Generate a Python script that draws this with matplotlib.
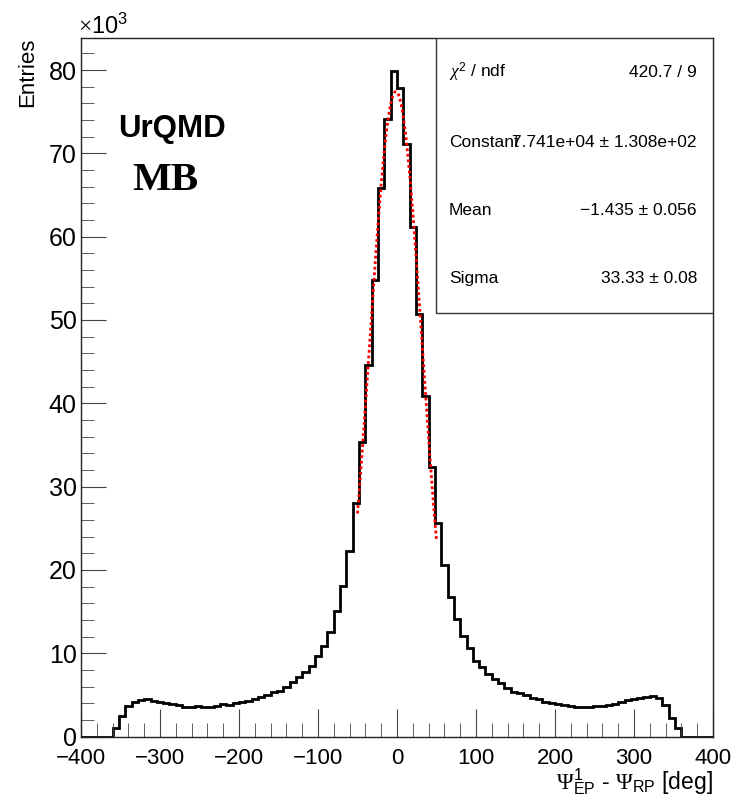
import matplotlib
matplotlib.use("Agg")
import matplotlib.pyplot as plt
import numpy as np
from matplotlib.patches import Rectangle
from matplotlib.ticker import MultipleLocator

plt.rcParams['font.family'] = ['Liberation Sans', 'DejaVu Sans']
plt.rcParams['mathtext.fontset'] = 'custom'
plt.rcParams['mathtext.rm'] = 'Liberation Serif'
plt.rcParams['mathtext.it'] = 'Liberation Serif:italic'
plt.rcParams['mathtext.sf'] = 'Liberation Sans'

# histogram: 100 bins of 8 deg from -400 to 400, entries in units of 10^3
bin_edges = np.arange(-400, 401, 8)
counts_k = [0.0] * 5 + [
    1.05, 2.5, 3.65, 4.15, 4.4, 4.5, 4.28, 4.14, 3.98, 3.86,
    3.74, 3.56, 3.54, 3.62, 3.54, 3.55, 3.66, 3.86, 3.8, 4.06,
    4.1, 4.26, 4.45, 4.7, 4.95, 5.3, 5.5, 6.0, 6.5, 7.2,
    7.8, 8.5, 9.7, 10.9, 12.6, 15.1, 18.1, 22.3, 28.0, 35.3,
    44.6, 54.8, 65.9, 74.1, 79.9,
    77.9, 71.1, 61.2, 50.7, 40.9, 32.4, 25.6, 20.6, 16.8, 14.1,
    12.1, 10.6, 9.06, 8.4, 7.5, 6.87, 6.4, 5.86, 5.34, 5.18,
    4.98, 4.66, 4.5, 4.18, 4.06, 3.9, 3.78, 3.66, 3.58, 3.58,
    3.58, 3.62, 3.7, 3.8, 3.86, 4.18, 4.38, 4.46, 4.58, 4.78,
    4.9, 4.62, 3.78, 2.2, 0.98,
] + [0.0] * 5

# gaussian fit result
fit_const = 77.41   # x10^3
fit_mean = -1.435
fit_sigma = 33.33
fit_range = (-50, 50)

stat_labels = [r'$\chi^{\mathsf{2}}$ / ndf', 'Constant', 'Mean', 'Sigma']
stat_values = ['420.7 / 9', u'7.741e+04 \u00b1 1.308e+02',
               u'\u22121.435 \u00b1 0.056', u'33.33 \u00b1 0.08']

fig = plt.figure(figsize=(7.33, 7.99), dpi=100)
ax = fig.add_axes([81 / 733, 62.5 / 799, 632 / 733, 698.5 / 799])

ax.stairs(counts_k, bin_edges, color='black', lw=2)

xf = np.linspace(fit_range[0], fit_range[1], 200)
yf = fit_const * np.exp(-0.5 * ((xf - fit_mean) / fit_sigma) ** 2)
ax.plot(xf, yf, color='red', lw=2, ls=(0, (1, 1)))

ax.set_xlim(-400, 400)
ax.set_ylim(0, 83.85)

ax.xaxis.set_major_locator(MultipleLocator(100))
ax.xaxis.set_minor_locator(MultipleLocator(20))
ax.yaxis.set_major_locator(MultipleLocator(10))
ax.yaxis.set_minor_locator(MultipleLocator(2))
ax.tick_params(which='both', direction='in', top=False, right=False, color='#444444')
ax.tick_params(which='major', axis='x', length=20, labelsize=16, pad=8)
ax.tick_params(which='minor', axis='x', length=10)
ax.tick_params(which='major', axis='y', length=18, labelsize=18, pad=3)
ax.tick_params(which='minor', axis='y', length=9)
for s in ax.spines.values():
    s.set_color('#222222')
    s.set_linewidth(1)

ax.set_ylabel('Entries', fontsize=16, loc='top', labelpad=8)
fig.text(78 / 733, 1 - 26 / 799, r'$\times\mathsf{10^{3}}$', fontsize=17,
         ha='left', va='center')
fig.text(713 / 733, 1 - 782 / 799,
         r'$\Psi^{\mathsf{1}}_{\mathsf{EP}}$ - $\Psi_{\mathsf{RP}}$ [deg]',
         fontsize=16.5, ha='right', va='center')

ax.text((118 - 81) / 632, (736.5 - 137) / 698.5, 'UrQMD',
        transform=ax.transAxes, fontsize=22.5, fontweight='bold',
        ha='left', va='baseline')
ax.text((132 - 81) / 632, (736.5 - 190) / 698.5, 'MB',
        transform=ax.transAxes, fontsize=29.5, fontweight='bold',
        family='Liberation Serif', ha='left', va='baseline')

# stats box
box_x0 = (436 - 81) / 632
box_y0 = (736.5 - 313) / 698.5
ax.add_patch(Rectangle((box_x0, box_y0), 1 - box_x0, 1 - box_y0,
                       transform=ax.transAxes, facecolor='white',
                       edgecolor='#333333', lw=1, zorder=5))
row_y = [0.951, 0.851, 0.753, 0.656]
for lab, val, yy in zip(stat_labels, stat_values, row_y):
    ax.text((449 - 81) / 632, yy, lab, transform=ax.transAxes, fontsize=12.5,
            ha='left', va='center', zorder=6)
    ax.text((697 - 81) / 632, yy, val, transform=ax.transAxes, fontsize=12.5,
            ha='right', va='center', zorder=6)

fig.savefig('out.png', dpi=100)
